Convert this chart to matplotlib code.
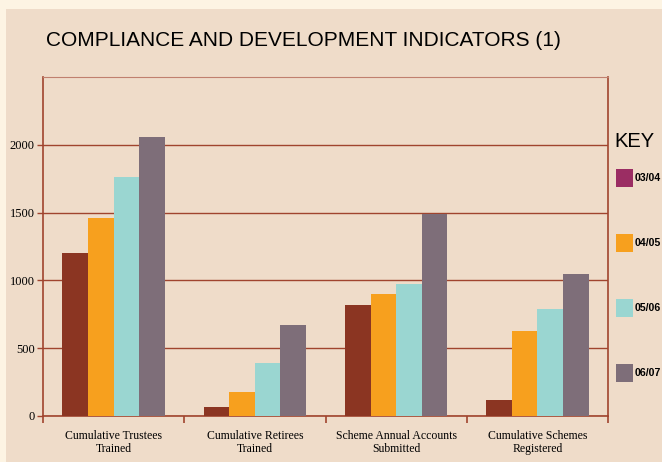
import matplotlib.pyplot as plt
import numpy as np
from matplotlib.patches import Rectangle

categories = ['Cumulative Trustees\nTrained', 'Cumulative Retirees\nTrained',
              'Scheme Annual Accounts\nSubmitted', 'Cumulative Schemes\nRegistered']
years = ['03/04', '04/05', '05/06', '06/07']
v_0304 = [1200, 65, 820, 120]
v_0405 = [1460, 175, 900, 625]
v_0506 = [1760, 390, 975, 790]
v_0607 = [2060, 670, 1490, 1045]
series = [v_0304, v_0405, v_0506, v_0607]

bar_colors = ['#8B3522', '#F7A01E', '#9AD6D1', '#7E6E79']
key_colors = ['#9B2D63', '#F7A01E', '#9AD6D1', '#7E6E79']
red = '#A0442E'
panel = '#EFDCC9'

fig = plt.figure(figsize=(6.62, 4.62), dpi=100)
fig.patch.set_facecolor('#FDF4E3')
fig.patches.append(Rectangle((6 / 662, 0), 1, 1 - 9 / 462, transform=fig.transFigure,
                             facecolor=panel, edgecolor='none', zorder=-5))

ax = fig.add_axes([43 / 662, 46 / 462, 565 / 662, 339 / 462])
ax.set_zorder(2)
ax.set_facecolor(panel)

x = np.arange(len(categories))
w = 0.181
for i, vals in enumerate(series):
    ax.bar(x + (i - 1.5) * w, vals, width=w, color=bar_colors[i], zorder=3)

ax.set_ylim(0, 2500)
ax.set_xlim(-0.5, 3.5)
ax.set_yticks([0, 500, 1000, 1500, 2000])
ax.yaxis.grid(True, color=red, linewidth=1.0, zorder=1)
ax.set_axisbelow(True)
ax.tick_params(axis='y', colors=red, length=4, width=1, labelcolor='black',
               labelsize=9, pad=2)
for t in ax.get_yticklabels():
    t.set_family('Liberation Serif')

ax.set_xticks(x)
ax.set_xticklabels(categories, family='Liberation Serif', fontsize=8.5, linespacing=1.15)
ax.tick_params(axis='x', length=0, pad=10)
ax.set_xticks(np.arange(-0.5, 4, 1), minor=True)
ax.tick_params(axis='x', which='minor', length=5, width=1.2, colors=red)

for s in ['left', 'right', 'bottom']:
    ax.spines[s].set_color(red)
    ax.spines[s].set_linewidth(1.2)
ax.spines['top'].set_color('#C0806E')
ax.spines['top'].set_linewidth(0.8)

fig.text(46 / 662, 1 - 40 / 462, 'COMPLIANCE AND DEVELOPMENT INDICATORS (1)',
         family='Liberation Sans', fontsize=15, va='center', ha='left')

fig.text(614 / 662, 1 - 142 / 462, 'KEY', family='Liberation Sans', fontsize=14.5,
         va='center', ha='left')
for i, yr in enumerate(years):
    yc = 178 + 65 * i
    fig.patches.append(Rectangle((616 / 662, 1 - (yc + 9) / 462), 17 / 662, 18 / 462,
                                 transform=fig.transFigure, facecolor=key_colors[i],
                                 edgecolor='none'))
    fig.text(634.5 / 662, 1 - yc / 462, yr, family='Liberation Sans', fontsize=7.6,
             fontweight='bold', va='center', ha='left')

fig.savefig('out.png', dpi=100, facecolor=fig.get_facecolor())
